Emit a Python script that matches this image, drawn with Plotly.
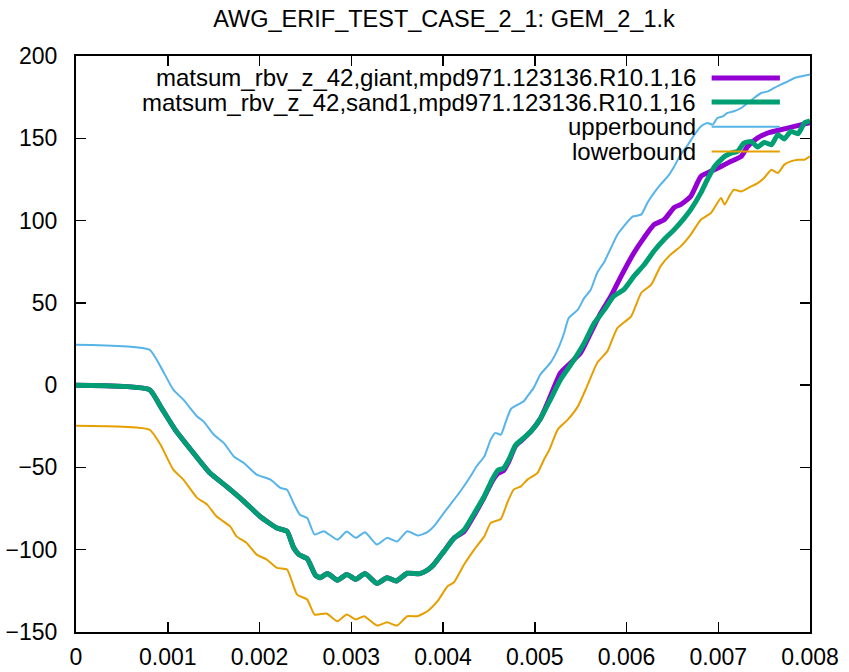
import plotly.graph_objects as go

# ---- data ----
giant_x = [0, 0.0008, 0.00092, 0.00108, 0.00128, 0.00146, 0.00164, 0.00183, 0.00201, 0.00219, 0.0023,
           0.00237, 0.00243, 0.00252, 0.00261, 0.00266, 0.00274, 0.00285, 0.00295, 0.00305, 0.00315,
           0.00328, 0.00339, 0.00349, 0.00361, 0.00375, 0.00384, 0.0039, 0.00401, 0.00412, 0.00423,
           0.00434, 0.00445, 0.00454, 0.0046, 0.00466, 0.00472, 0.00479, 0.00486, 0.00496, 0.00506,
           0.00517, 0.00528, 0.00539, 0.0055, 0.00561, 0.00572, 0.00583, 0.00594, 0.00608, 0.00619,
           0.0063, 0.00641, 0.00652, 0.00659, 0.0067, 0.00681, 0.00692, 0.00703, 0.00714, 0.00725,
           0.00732, 0.00743, 0.00754, 0.00768, 0.00783, 0.008]
giant_y = [0, -2.7, -12.9, -27, -41.2, -53.4, -61.5, -70.6, -80, -86.8, -88.8,
           -98.5, -103, -105.5, -115.5, -117, -114.5, -118.5, -115, -118, -114.5,
           -120.5, -117, -119, -114.3, -114.5, -112, -109, -101, -93, -89,
           -79, -68, -58, -53.5, -52, -46, -37, -33.5, -28, -20.5,
           -6.8, 7.4, 13.5, 19.6, 31.7, 43.9, 54, 66.1, 80.3, 89.5,
           97.5, 100.5, 108, 109.7, 114.7, 126.8, 129.9, 132.9, 136, 139,
           145, 150.2, 153.2, 155.2, 157.2, 159.5]

sand1_x = [0, 0.0008, 0.00092, 0.00108, 0.00128, 0.00146, 0.00164, 0.00183, 0.00201, 0.00219, 0.0023,
           0.00237, 0.00243, 0.00252, 0.00261, 0.00266, 0.00274, 0.00285, 0.00295, 0.00305, 0.00315,
           0.00328, 0.00339, 0.00349, 0.00361, 0.00375, 0.00384, 0.0039, 0.00401, 0.00412, 0.00423,
           0.00434, 0.00445, 0.00454, 0.0046, 0.00466, 0.00472, 0.00479, 0.00486, 0.00496, 0.00506,
           0.00517, 0.00528, 0.00543, 0.00554, 0.00565, 0.00576, 0.00586, 0.00597, 0.00608, 0.00619,
           0.0063, 0.00641, 0.00652, 0.00663, 0.0067, 0.00681, 0.00688, 0.00696, 0.00707, 0.00714,
           0.00721, 0.00728, 0.00736, 0.00743, 0.0075, 0.00758, 0.00765, 0.00772, 0.00779, 0.00787,
           0.00794, 0.008]
sand1_y = [0, -2.7, -12.9, -27, -41.2, -53.4, -61.5, -70.6, -80, -86.8, -88.8,
           -98.5, -103, -105.5, -115.5, -117, -114.5, -118.5, -115, -118, -114.5,
           -120.5, -117, -119, -114.3, -114.5, -112, -109, -101, -93, -88,
           -78, -67.5, -57, -51.7, -50.5, -45, -36.5, -33, -28, -20.5,
           -8.8, 3.3, 15.5, 25.6, 37.8, 45.9, 54, 58, 66.1, 73,
           81.5, 88.5, 94.5, 101.5, 106.6, 116.8, 124.8, 132.9, 139, 141,
           142, 147.1, 148.1, 144.7, 147.5, 146.1, 152.2, 149.6, 154.2, 152.8,
           159.3, 160.5]

upper_x = [0, 0.0008, 0.00092, 0.00106, 0.00117, 0.00132, 0.00139, 0.0015, 0.00161, 0.00172, 0.00183,
           0.00197, 0.00212, 0.00223, 0.0023, 0.00237, 0.00244, 0.00252, 0.0026, 0.0027, 0.00285,
           0.00295, 0.00305, 0.00315, 0.00328, 0.00339, 0.0035, 0.00361, 0.00373, 0.00383, 0.0039,
           0.00401, 0.00412, 0.00419, 0.0043, 0.00437, 0.00445, 0.00452, 0.00457, 0.00463, 0.00468,
           0.00474, 0.00481, 0.00488, 0.00492, 0.00499, 0.00506, 0.00517, 0.00525, 0.00532, 0.00537,
           0.00547, 0.00554, 0.00561, 0.00568, 0.00576, 0.00583, 0.0059, 0.00597, 0.00607, 0.00616,
           0.00623, 0.0063, 0.00637, 0.00645, 0.00652, 0.00659, 0.00667, 0.00674, 0.00681, 0.00688,
           0.00694, 0.00699, 0.00705, 0.0071, 0.00717, 0.00725, 0.00732, 0.00739, 0.00747, 0.00754,
           0.00761, 0.00768, 0.00776, 0.00783, 0.0079, 0.008]
upper_y = [24.6, 21.6, 11.4, -2.7, -8.8, -19, -22, -30, -35.1, -43.3, -47.3,
           -54.4, -57.4, -62.5, -63.5, -71.6, -78.7, -80.7, -90.8, -88.8, -93.9,
           -89, -92.8, -89.4, -96.9, -92.8, -95, -88.8, -91.4, -89.3, -85.8,
           -77.6, -69.6, -64.5, -55.4, -49, -43.3, -33.1, -29, -30.1, -23,
           -14.5, -12, -9.8, -6.8, -1.5, 6.4, 13.5, 21.6, 31.7, 40.8,
           45.9, 53, 58, 68.2, 75.2, 83.3, 91.4, 96.5, 102.5, 103.6,
           111, 116.8, 121.8, 126.8, 132.9, 140, 146.1, 152.2, 157.2, 159.3,
           158.3, 162.3, 163.3, 165.4, 166.4, 168.4, 171.4, 174.5, 177.5, 178.5,
           180.6, 182.6, 184.6, 186.6, 187.6, 188.8]

lower_x = [0, 0.0008, 0.00092, 0.00106, 0.00117, 0.00132, 0.00143, 0.00153, 0.00168, 0.00175, 0.00186,
           0.00197, 0.00208, 0.00219, 0.0023, 0.00241, 0.00252, 0.0026, 0.00273, 0.00285, 0.00295,
           0.00305, 0.00314, 0.00328, 0.00339, 0.0035, 0.00361, 0.00372, 0.00383, 0.00394, 0.00405,
           0.00412, 0.00423, 0.00434, 0.00445, 0.00452, 0.00463, 0.0047, 0.00477, 0.00485, 0.00492,
           0.00503, 0.0051, 0.00516, 0.00525, 0.00536, 0.00547, 0.00557, 0.00568, 0.00579, 0.0059,
           0.00605, 0.00616, 0.00627, 0.00637, 0.00648, 0.00659, 0.0067, 0.00681, 0.00692, 0.00703,
           0.00707, 0.00712, 0.00717, 0.00725, 0.00736, 0.00743, 0.0075, 0.00758, 0.00765, 0.00772,
           0.00779, 0.00787, 0.00794, 0.008]
lower_y = [-24.6, -27, -36.1, -51.3, -57.4, -68.5, -72.6, -79.7, -85.8, -91.9, -95.9,
           -103, -106, -111, -112, -127.3, -130.3, -139.4, -138.8, -143.5, -139.4,
           -142.4, -140.4, -146.1, -144.1, -146.1, -140.4, -140.4, -137.4, -131.3, -122.2,
           -119.8, -109, -99.9, -91.9, -83.7, -81.3, -71.6, -63.5, -61.5, -57.4,
           -53.3, -45.3, -39.2, -27, -21, -12.9, -0.7, 13.5, 20.5, 34.7,
           41.8, 56, 61.1, 72.2, 79.3, 84.3, 91.5, 100.5, 104.6, 113.7,
           109.7, 114.7, 118.8, 117.7, 120.8, 122.8, 125.9, 130.9, 128.9, 134,
           136, 137, 137, 139]

x_ticks = [0, 0.001, 0.002, 0.003, 0.004, 0.005, 0.006, 0.007, 0.008]
x_ticktext = ["0", "0.001", "0.002", "0.003", "0.004", "0.005", "0.006", "0.007", "0.008"]
y_ticks = [-150, -100, -50, 0, 50, 100, 150, 200]

names = ["matsum_rbv_z_42,giant,mpd971.123136.R10.1,16",
         "matsum_rbv_z_42,sand1,mpd971.123136.R10.1,16",
         "upperbound", "lowerbound"]
colors = ["#9400D3", "#009E73", "#56B4E9", "#E69F00"]
widths = [5, 5, 2, 2]

FONT = "Liberation Sans, Arial, sans-serif"
FS_TICK = 23
FS_KEY = 24
FS_TITLE = 23.5

fig = go.Figure()
series = [(giant_x, giant_y), (sand1_x, sand1_y), (upper_x, upper_y), (lower_x, lower_y)]
for (xs, ys), nm, c, w in zip(series, names, colors, widths):
    fig.add_trace(go.Scatter(x=xs, y=ys, mode="lines", name=nm,
                             line=dict(color=c, width=w, shape="spline", smoothing=0.5),
                             showlegend=False, hoverinfo="skip"))

# manual gnuplot-style key: text right-aligned, sample line on the right
row_y = [0.962, 0.920, 0.877, 0.834]
for nm, c, w, ry in zip(names, colors, widths, row_y):
    fig.add_annotation(xref="paper", yref="paper", x=0.848, y=ry, text=nm, showarrow=False,
                       xanchor="right", yanchor="middle",
                       font=dict(family=FONT, size=FS_KEY, color="black"))
    fig.add_shape(type="line", xref="paper", yref="paper", x0=0.866, x1=0.959, y0=ry, y1=ry,
                  line=dict(color=c, width=w))

fig.update_layout(
    width=849, height=672,
    paper_bgcolor="white", plot_bgcolor="white",
    margin=dict(l=76, r=39, t=56, b=40, autoexpand=False),
    title=dict(text="AWG_ERIF_TEST_CASE_2_1: GEM_2_1.k", x=0.523, xanchor="center",
               y=0.9725, yanchor="middle", font=dict(family=FONT, size=FS_TITLE, color="black")),
    font=dict(family=FONT, size=FS_TICK, color="black"),
)
fig.update_xaxes(range=[0, 0.008], tickvals=x_ticks, ticktext=x_ticktext, automargin=False,
                 showgrid=False, zeroline=False, showline=True, linecolor="black", linewidth=2,
                 mirror="ticks", ticks="inside", ticklen=10, tickwidth=1.5, tickcolor="black",
                 ticklabelstandoff=3, layer="below traces",
                 tickfont=dict(family=FONT, size=FS_TICK, color="black"))
fig.update_yaxes(range=[-150, 200], tickvals=y_ticks, automargin=False,
                 showgrid=False, zeroline=False, showline=True, linecolor="black", linewidth=2,
                 mirror="ticks", ticks="inside", ticklen=10, tickwidth=1.5, tickcolor="black",
                 ticklabelstandoff=12, layer="below traces",
                 tickfont=dict(family=FONT, size=FS_TICK, color="black"))

fig.write_html("out.html", config={"displayModeBar": False, "staticPlot": True},
               post_script="document.body.style.margin='0';document.body.style.padding='0';")
